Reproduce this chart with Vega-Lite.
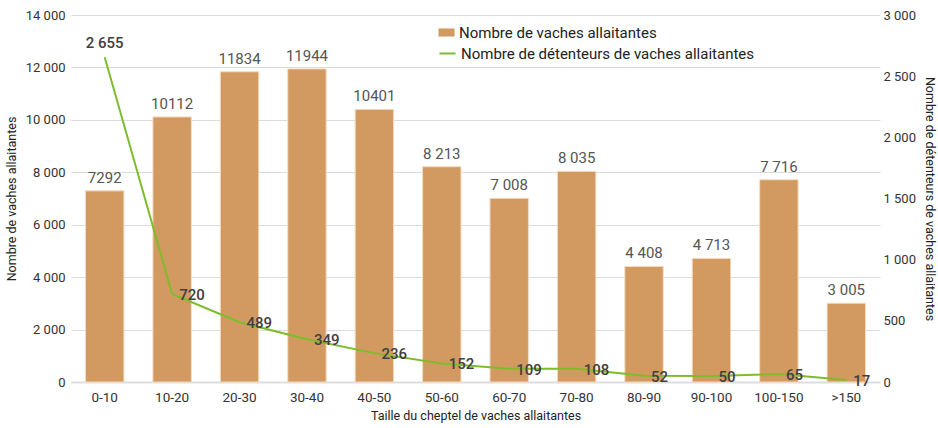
{
  "$schema": "https://vega.github.io/schema/vega-lite/v6.json",
  "width": 809,
  "height": 367,
  "padding": {"left": 5, "top": 9, "right": 3, "bottom": 2},
  "background": "white",
  "config": {
    "font": "Roboto",
    "view": {"stroke": null},
    "locale": {"number": {"decimal": ",", "thousands": "\u00a0", "grouping": [3], "currency": ["", " €"]}},
    "axis": {"labelFont": "Roboto", "titleFont": "Roboto", "labelColor": "#333", "titleColor": "#222", "labelFontSize": 13, "titleFontSize": 12.5, "titleFontWeight": "normal"}
  },
  "data": {"values": [
    {"cat": "0-10", "vaches": 7292, "vlabel": "7292", "det": 2655, "dlabel": "2 655"},
    {"cat": "10-20", "vaches": 10112, "vlabel": "10112", "det": 720, "dlabel": "720"},
    {"cat": "20-30", "vaches": 11834, "vlabel": "11834", "det": 489, "dlabel": "489"},
    {"cat": "30-40", "vaches": 11944, "vlabel": "11944", "det": 349, "dlabel": "349"},
    {"cat": "40-50", "vaches": 10401, "vlabel": "10401", "det": 236, "dlabel": "236"},
    {"cat": "50-60", "vaches": 8213, "vlabel": "8 213", "det": 152, "dlabel": "152"},
    {"cat": "60-70", "vaches": 7008, "vlabel": "7 008", "det": 109, "dlabel": "109"},
    {"cat": "70-80", "vaches": 8035, "vlabel": "8 035", "det": 108, "dlabel": "108"},
    {"cat": "80-90", "vaches": 4408, "vlabel": "4 408", "det": 52, "dlabel": "52"},
    {"cat": "90-100", "vaches": 4713, "vlabel": "4 713", "det": 50, "dlabel": "50"},
    {"cat": "100-150", "vaches": 7716, "vlabel": "7 716", "det": 65, "dlabel": "65"},
    {"cat": ">150", "vaches": 3005, "vlabel": "3 005", "det": 17, "dlabel": "17"}
  ]},
  "encoding": {
    "x": {"field": "cat", "type": "nominal", "sort": null,
      "scale": {"paddingInner": 0.43, "paddingOuter": 0.215},
      "axis": {"title": "Taille du cheptel de vaches allaitantes", "labelAngle": 0, "ticks": false, "domain": true, "domainColor": "#dddddd", "domainWidth": 2, "labelPadding": 8, "titlePadding": 6, "labelFontSize": 13.5}}
  },
  "layer": [
    {
      "layer": [
        {
          "mark": {"type": "bar", "stroke": "#f3dcc3", "strokeWidth": 1},
          "encoding": {
            "y": {"field": "vaches", "type": "quantitative",
              "scale": {"domain": [0, 14000]},
              "axis": {"title": "Nombre de vaches allaitantes", "orient": "left", "values": [0, 2000, 4000, 6000, 8000, 10000, 12000, 14000], "format": ",d", "ticks": false, "domain": false, "grid": true, "gridColor": "#dcdcdc", "gridWidth": 1.2, "labelPadding": 6, "titlePadding": 7}},
            "color": {"datum": "Nombre de vaches allaitantes", "type": "nominal",
              "scale": {"range": ["#d29a61"]},
              "legend": {"title": null, "orient": "none", "legendX": 367, "legendY": 9, "symbolType": "M-1,-0.5H1V0.5H-1Z", "symbolSize": 260, "symbolOpacity": 1, "labelFontSize": 15, "labelLimit": 0, "labelColor": "#222", "labelFont": "Roboto", "symbolStrokeWidth": 0}}
          }
        },
        {
          "mark": {"type": "text", "dy": -13, "fontSize": 15, "color": "#555", "font": "Roboto"},
          "encoding": {
            "y": {"field": "vaches", "type": "quantitative"},
            "text": {"field": "vlabel"}
          }
        }
      ]
    },
    {
      "layer": [
        {
          "mark": {"type": "line", "interpolate": "linear", "strokeWidth": 2},
          "encoding": {
            "y": {"field": "det", "type": "quantitative",
              "scale": {"domain": [0, 3000]},
              "axis": {"title": "Nombre de détenteurs de vaches allaitantes", "orient": "right", "values": [0, 500, 1000, 1500, 2000, 2500, 3000], "format": ",d", "ticks": false, "domain": false, "grid": false, "labelPadding": 3, "titlePadding": 7}},
            "stroke": {"datum": "Nombre de détenteurs de vaches allaitantes", "type": "nominal",
              "scale": {"range": ["#7dbd2c"]},
              "legend": {"title": null, "orient": "none", "legendX": 367, "legendY": 29, "symbolType": "stroke", "symbolSize": 260, "symbolStrokeWidth": 2, "labelFontSize": 15, "labelLimit": 0, "labelColor": "#222", "labelFont": "Roboto"}}
          }
        },
        {
          "transform": [{"filter": "datum.cat !== '0-10'"}],
          "mark": {"type": "text", "align": "left", "dx": 7, "dy": 1, "fontSize": 15, "fontWeight": 500, "color": "#404040", "font": "Roboto"},
          "encoding": {
            "y": {"field": "det", "type": "quantitative"},
            "text": {"field": "dlabel"}
          }
        },
        {
          "transform": [{"filter": "datum.cat === '0-10'"}],
          "mark": {"type": "text", "align": "center", "dy": -14, "fontSize": 15, "fontWeight": 500, "color": "#404040", "font": "Roboto"},
          "encoding": {
            "y": {"field": "det", "type": "quantitative"},
            "text": {"field": "dlabel"}
          }
        }
      ]
    }
  ],
  "resolve": {"scale": {"y": "independent", "color": "independent", "stroke": "independent"}}
}
